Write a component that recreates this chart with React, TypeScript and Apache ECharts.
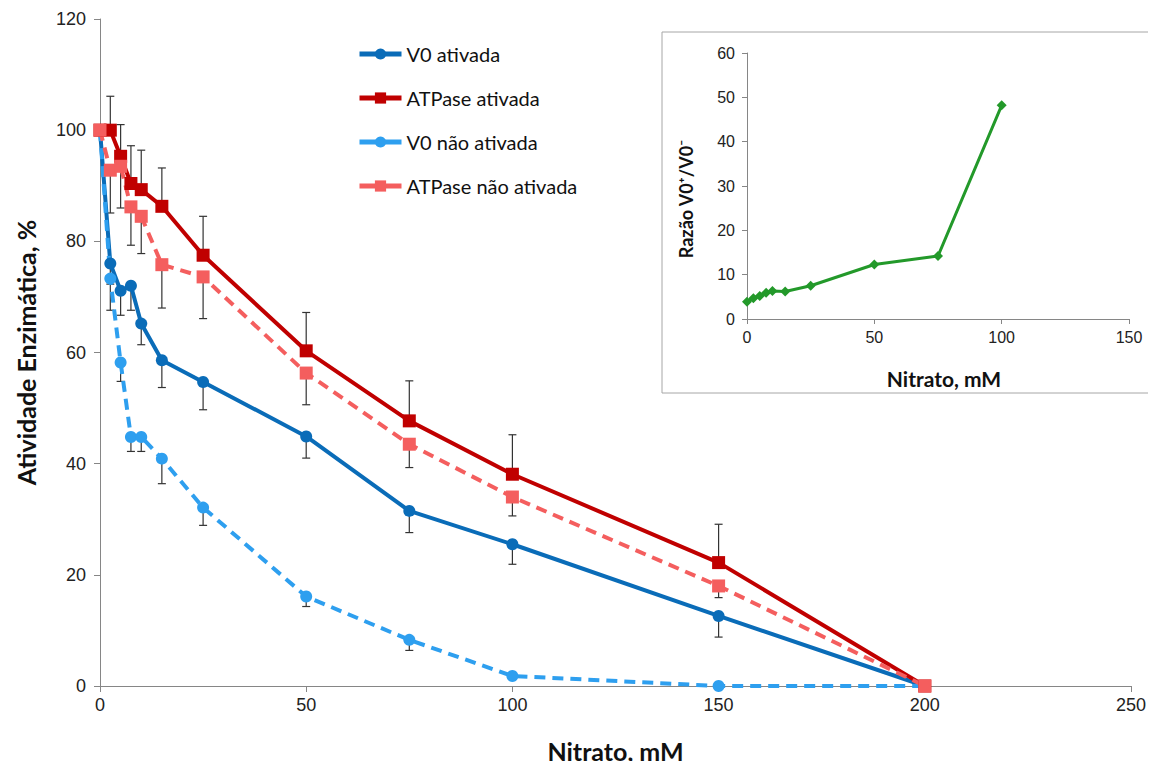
import React, { useEffect, useRef } from "react";
import * as echarts from "echarts";

// Main chart data
const nitrato = [0, 2.5, 5, 7.5, 10, 15, 25, 50, 75, 100, 150, 200];
const v0Ativada = [100, 76.0, 71.1, 72.0, 65.2, 58.6, 54.7, 44.9, 31.5, 25.5, 12.6, 0];
const atpAtivada = [100, 100, 95.3, 90.4, 89.3, 86.3, 77.5, 60.3, 47.7, 38.1, 22.2, 0];
const v0NaoAtivada = [100, 73.3, 58.2, 44.8, 44.8, 40.9, 32.1, 16.1, 8.3, 1.8, 0, 0];
const atpNaoAtivada = [100, 92.8, 93.5, 86.2, 84.5, 75.8, 73.6, 56.3, 43.5, 34.0, 18.0, 0];

// Error bars (visible halves)
const errV0Ativada = [0, 8.4, 4.4, 4.4, 3.8, 4.9, 5.0, 3.9, 3.9, 3.6, 3.8, 0]; // down
const errAtpAtivada = [0, 6.1, 5.7, 6.8, 7.1, 6.9, 7.0, 6.9, 7.2, 7.1, 6.9, 0]; // up
const errV0NaoAtivada = [0, 1.0, 3.4, 2.6, 2.6, 4.5, 3.2, 1.8, 1.9, 0.5, 0, 0]; // down
const errAtpNaoAtivada = [0, 7.7, 7.5, 6.9, 6.7, 7.8, 7.5, 5.7, 4.2, 3.4, 2.1, 0]; // down

// Inset data
const insetNitrato = [0, 2.5, 5, 7.5, 10, 15, 25, 50, 75, 100];
const razao = [3.9, 4.7, 5.2, 5.9, 6.3, 6.2, 7.5, 12.3, 14.2, 48.2];

const mainXTicks = { min: 0, max: 250, interval: 50 };
const mainYTicks = { min: 0, max: 120, interval: 20 };
const insetXTicks = { min: 0, max: 150, interval: 50 };
const insetYTicks = { min: 0, max: 60, interval: 10 };

const C_V0A = "#0A6CB8";
const C_ATPA = "#C00000";
const C_V0N = "#2E9FEF";
const C_ATPN = "#F45E5E";
const C_GREEN = "#23992A";

const AXIS_GRAY = "#868686";

function errSeries(ys: number[], errs: number[], dir: "up" | "down") {
  const data = nitrato
    .map((x, i) => [x, ys[i], dir === "up" ? ys[i] + errs[i] : ys[i] - errs[i]])
    .filter((_, i) => errs[i] > 0);
  return {
    type: "custom",
    xAxisIndex: 0,
    yAxisIndex: 0,
    z: 1,
    silent: true,
    data,
    renderItem: (_params: any, api: any) => {
      const p1 = api.coord([api.value(0), api.value(1)]);
      const p2 = api.coord([api.value(0), api.value(2)]);
      const st = { stroke: "#333", lineWidth: 1.2 };
      return {
        type: "group",
        children: [
          { type: "line", shape: { x1: p1[0], y1: p1[1], x2: p2[0], y2: p2[1] }, style: st },
          { type: "line", shape: { x1: p2[0] - 4, y1: p2[1], x2: p2[0] + 4, y2: p2[1] }, style: st },
        ],
      };
    },
  };
}

function lineSeries(name: string, ys: number[], color: string, symbol: string, size: number, dashed: boolean) {
  return {
    name,
    type: "line",
    xAxisIndex: 0,
    yAxisIndex: 0,
    z: 3,
    data: nitrato.map((x, i) => [x, ys[i]]),
    symbol,
    symbolSize: size,
    showSymbol: true,
    itemStyle: { color },
    lineStyle: { color, width: 4, type: dashed ? [11, 7] : "solid" },
  };
}

export default function App() {
  const ref = useRef<HTMLDivElement>(null);
  useEffect(() => {
    if (!ref.current) return;
    const chart = echarts.init(ref.current, undefined, { renderer: "svg" });
    const tickLabel = { color: "#222", fontSize: 18, fontFamily: "Liberation Sans, Arial, sans-serif" };
    const insetTickLabel = { color: "#222", fontSize: 16, fontFamily: "Liberation Sans, Arial, sans-serif" };
    chart.setOption({
      animation: false,
      backgroundColor: "#fff",
      legend: {
        data: ["V0 ativada", "ATPase ativada", "V0 não ativada", "ATPase não ativada"],
        orient: "vertical",
        left: 352,
        top: 39,
        itemWidth: 42,
        itemHeight: 14,
        itemGap: 24,
        lineStyle: { type: "solid", width: 5 },
        textStyle: { fontSize: 20, color: "#111", fontFamily: "Lato, 'Open Sans', sans-serif" },
      },
      grid: [
        { left: 100, right: 25, top: 19, bottom: 83 },
        { left: 747, right: 27, top: 53, height: 266 },
      ],
      xAxis: [
        {
          type: "value",
          gridIndex: 0,
          ...mainXTicks,
          splitLine: { show: false },
          axisLine: { lineStyle: { color: AXIS_GRAY } },
          axisTick: { lineStyle: { color: AXIS_GRAY }, length: 6 },
          axisLabel: { ...tickLabel, margin: 10 },
          name: "Nitrato, mM",
          nameLocation: "middle",
          nameGap: 52,
          nameTextStyle: { fontSize: 25, fontWeight: "bold", color: "#111", fontFamily: "Lato, sans-serif" },
        },
        {
          type: "value",
          gridIndex: 1,
          ...insetXTicks,
          splitLine: { show: false },
          axisLine: { lineStyle: { color: AXIS_GRAY } },
          axisTick: { lineStyle: { color: AXIS_GRAY }, length: 5 },
          axisLabel: { ...insetTickLabel, margin: 10 },
        },
      ],
      yAxis: [
        {
          type: "value",
          gridIndex: 0,
          ...mainYTicks,
          splitLine: { show: false },
          axisLine: { show: true, lineStyle: { color: AXIS_GRAY } },
          axisTick: { show: true, lineStyle: { color: AXIS_GRAY }, length: 6 },
          axisLabel: { ...tickLabel, margin: 14 },
          name: "Atividade Enzimática, %",
          nameLocation: "middle",
          nameGap: 62,
          nameTextStyle: { fontSize: 25, fontWeight: "bold", color: "#111", fontFamily: "Lato, sans-serif" },
        },
        {
          type: "value",
          gridIndex: 1,
          ...insetYTicks,
          splitLine: { show: false },
          axisLine: { show: true, lineStyle: { color: AXIS_GRAY } },
          axisTick: { show: true, lineStyle: { color: AXIS_GRAY }, length: 5 },
          axisLabel: { ...insetTickLabel, margin: 12 },
        },
      ],
      graphic: [
        {
          type: "rect",
          z: -1,
          shape: { x: 662, y: 32, width: 488, height: 361 },
          style: { fill: "#fff", stroke: "#A6A6A6", lineWidth: 1 },
        },
        {
          type: "text",
          x: 686,
          y: 199,
          rotation: Math.PI / 2,
          style: {
            text: "Razão V0⁺/V0⁻",
            fontSize: 18,
            fontWeight: "bold",
            fill: "#111",
            fontFamily: "Lato, sans-serif",
            align: "center",
            verticalAlign: "middle",
          },
        },
        {
          type: "text",
          x: 944,
          y: 378,
          style: {
            text: "Nitrato, mM",
            fontSize: 21,
            fontWeight: "bold",
            fill: "#111",
            fontFamily: "Lato, sans-serif",
            align: "center",
            verticalAlign: "middle",
          },
        },
      ],
      series: [
        errSeries(v0Ativada, errV0Ativada, "down"),
        errSeries(atpAtivada, errAtpAtivada, "up"),
        errSeries(v0NaoAtivada, errV0NaoAtivada, "down"),
        errSeries(atpNaoAtivada, errAtpNaoAtivada, "down"),
        lineSeries("V0 ativada", v0Ativada, C_V0A, "circle", 12, false),
        lineSeries("ATPase ativada", atpAtivada, C_ATPA, "rect", 13, false),
        lineSeries("V0 não ativada", v0NaoAtivada, C_V0N, "circle", 12, true),
        lineSeries("ATPase não ativada", atpNaoAtivada, C_ATPN, "rect", 13, true),
        {
          name: "Razão",
          type: "line",
          xAxisIndex: 1,
          yAxisIndex: 1,
          data: insetNitrato.map((x, i) => [x, razao[i]]),
          symbol: "diamond",
          symbolSize: 10,
          itemStyle: { color: C_GREEN },
          lineStyle: { color: C_GREEN, width: 3 },
        },
      ],
    });
    return () => chart.dispose();
  }, []);
  return <div ref={ref} style={{ width: 1156, height: 769, margin: -8 }} />;
}
